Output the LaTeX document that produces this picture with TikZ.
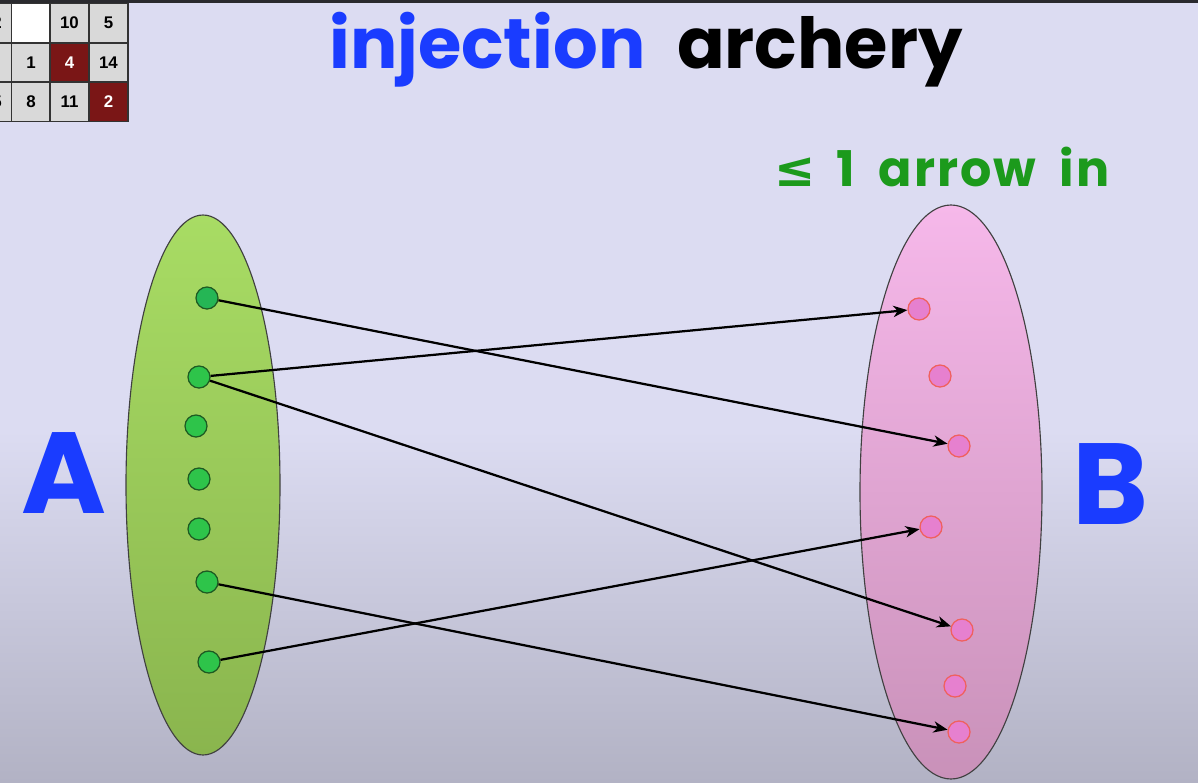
\documentclass[tikz,border=0pt]{standalone}
\usepackage{fontspec}
\setmainfont{Poppins}
\newfontfamily\gridfont{Liberation Sans}
\newfontfamily\symfont{DejaVu Sans}
\newfontfamily\notefont{Poppins}[LetterSpace=4]
\usetikzlibrary{arrows.meta}
\definecolor{bgtop}{HTML}{DCDCF2}
\definecolor{bgbottom}{HTML}{B2B2C4}
\definecolor{topbar}{HTML}{2A2A2E}
\definecolor{cellgray}{HTML}{D9D9D9}
\definecolor{cellred}{HTML}{7A1616}
\definecolor{setAtop}{HTML}{A8DC64}
\definecolor{setAbottom}{HTML}{8AB54E}
\definecolor{setBtop}{HTML}{F6B8EA}
\definecolor{setBbottom}{HTML}{C991B9}
\definecolor{dotgreen}{HTML}{2EC44A}
\definecolor{dotgreenline}{HTML}{1D5A22}
\definecolor{dotpink}{HTML}{E680CF}
\definecolor{dotpinkline}{HTML}{F0605E}
\definecolor{titleblue}{HTML}{1A3CFF}
\definecolor{notegreen}{HTML}{1C9A1C}
\tikzset{cell/.style={rectangle, draw=black!80, fill=cellgray, line width=1.3pt, minimum size=0.975cm, inner sep=0pt, font=\gridfont\bfseries\fontsize{12}{12}\selectfont}}
\tikzset{redcell/.style={cell, fill=cellred, text=white}}
\tikzset{gdot/.style={circle, draw=dotgreenline, fill=dotgreen, line width=0.9pt, minimum size=0.55cm, inner sep=0pt}}
\tikzset{pdot/.style={circle, draw=dotpinkline, fill=dotpink, line width=0.9pt, minimum size=0.55cm, inner sep=0pt}}
\tikzset{shot/.style={-{Stealth[length=10pt, width=8pt, inset=3pt]}, line width=1.6pt, black}}
\tikzset{setname/.style={text=titleblue, font=\bfseries\fontsize{82}{82}\selectfont}}

\begin{document}
\begin{tikzpicture}[x=0.025cm, y=-0.025cm]
\useasboundingbox (0,0) rectangle (1198,783);
% background
\fill[bgtop] (0,0) rectangle (1198,783);
\shade[top color=bgtop, bottom color=bgbottom] (0,430) rectangle (1198,783);
\fill[topbar] (0,0) rectangle (1198,3);

% puzzle grid in the corner
\begin{scope}
\clip (0,3) rectangle (1198,783);
\node[cell] (c11) at (-7.5,23) {12};
\node[cell, fill=white] (c12) at (31,23) {};
\node[cell] (c13) at (69.5,23) {10};
\node[cell] (c14) at (108.5,23) {5};
\node[cell] (c21) at (-7.5,62.5) {};
\node[cell] (c22) at (31,62.5) {1};
\node[redcell] (c23) at (69.5,62.5) {4};
\node[cell] (c24) at (108.5,62.5) {14};
\node[cell] (c31) at (-7.5,102) {15};
\node[cell] (c32) at (31,102) {8};
\node[cell] (c33) at (69.5,102) {11};
\node[redcell] (c34) at (108.5,102) {2};
\end{scope}

% title
\node[anchor=base, font=\bfseries\fontsize{50}{50}\selectfont] (title) at (646,68)
  {\textcolor{titleblue}{injection}\hspace{0.45em}archery};
\node[anchor=base west, text=notegreen, font=\notefont\bfseries\fontsize{35}{35}\selectfont] (note) at (770,186)
  {{\symfont ≤}\hspace{0.42em}1\hspace{0.48em}arrow\hspace{0.48em}in};

% the two sets
\shade[top color=setAtop, bottom color=setAbottom, draw=black!75, line width=0.8pt]
  (203,485) ellipse [x radius=77, y radius=270];
\shade[top color=setBtop, bottom color=setBbottom, draw=black!75, line width=0.8pt]
  (951,492) ellipse [x radius=91, y radius=287];
\node[setname] (A) at (64,473) {A};
\node[setname] (B) at (1110,484) {B};

% points of A
\node[gdot, fill=dotgreen!80!teal] (a1) at (207,298) {};
\node[gdot] (a2) at (199,377) {};
\node[gdot] (a3) at (196,426) {};
\node[gdot] (a4) at (199,479) {};
\node[gdot] (a5) at (199,529) {};
\node[gdot] (a6) at (207,582) {};
\node[gdot] (a7) at (209,662) {};

% points of B
\node[pdot] (b1) at (919,309) {};
\node[pdot] (b2) at (940,376) {};
\node[pdot] (b3) at (959,446) {};
\node[pdot] (b4) at (931,527) {};
\node[pdot] (b5) at (962,630) {};
\node[pdot] (b6) at (955,686) {};
\node[pdot] (b7) at (959,732) {};

% arrows
\draw[shot] (a1) -- (b3);
\draw[shot] (a2) -- (b1);
\draw[shot] (a2) -- (b5);
\draw[shot] (a6) -- (b7);
\draw[shot] (a7) -- (b4);
\end{tikzpicture}
\end{document}
